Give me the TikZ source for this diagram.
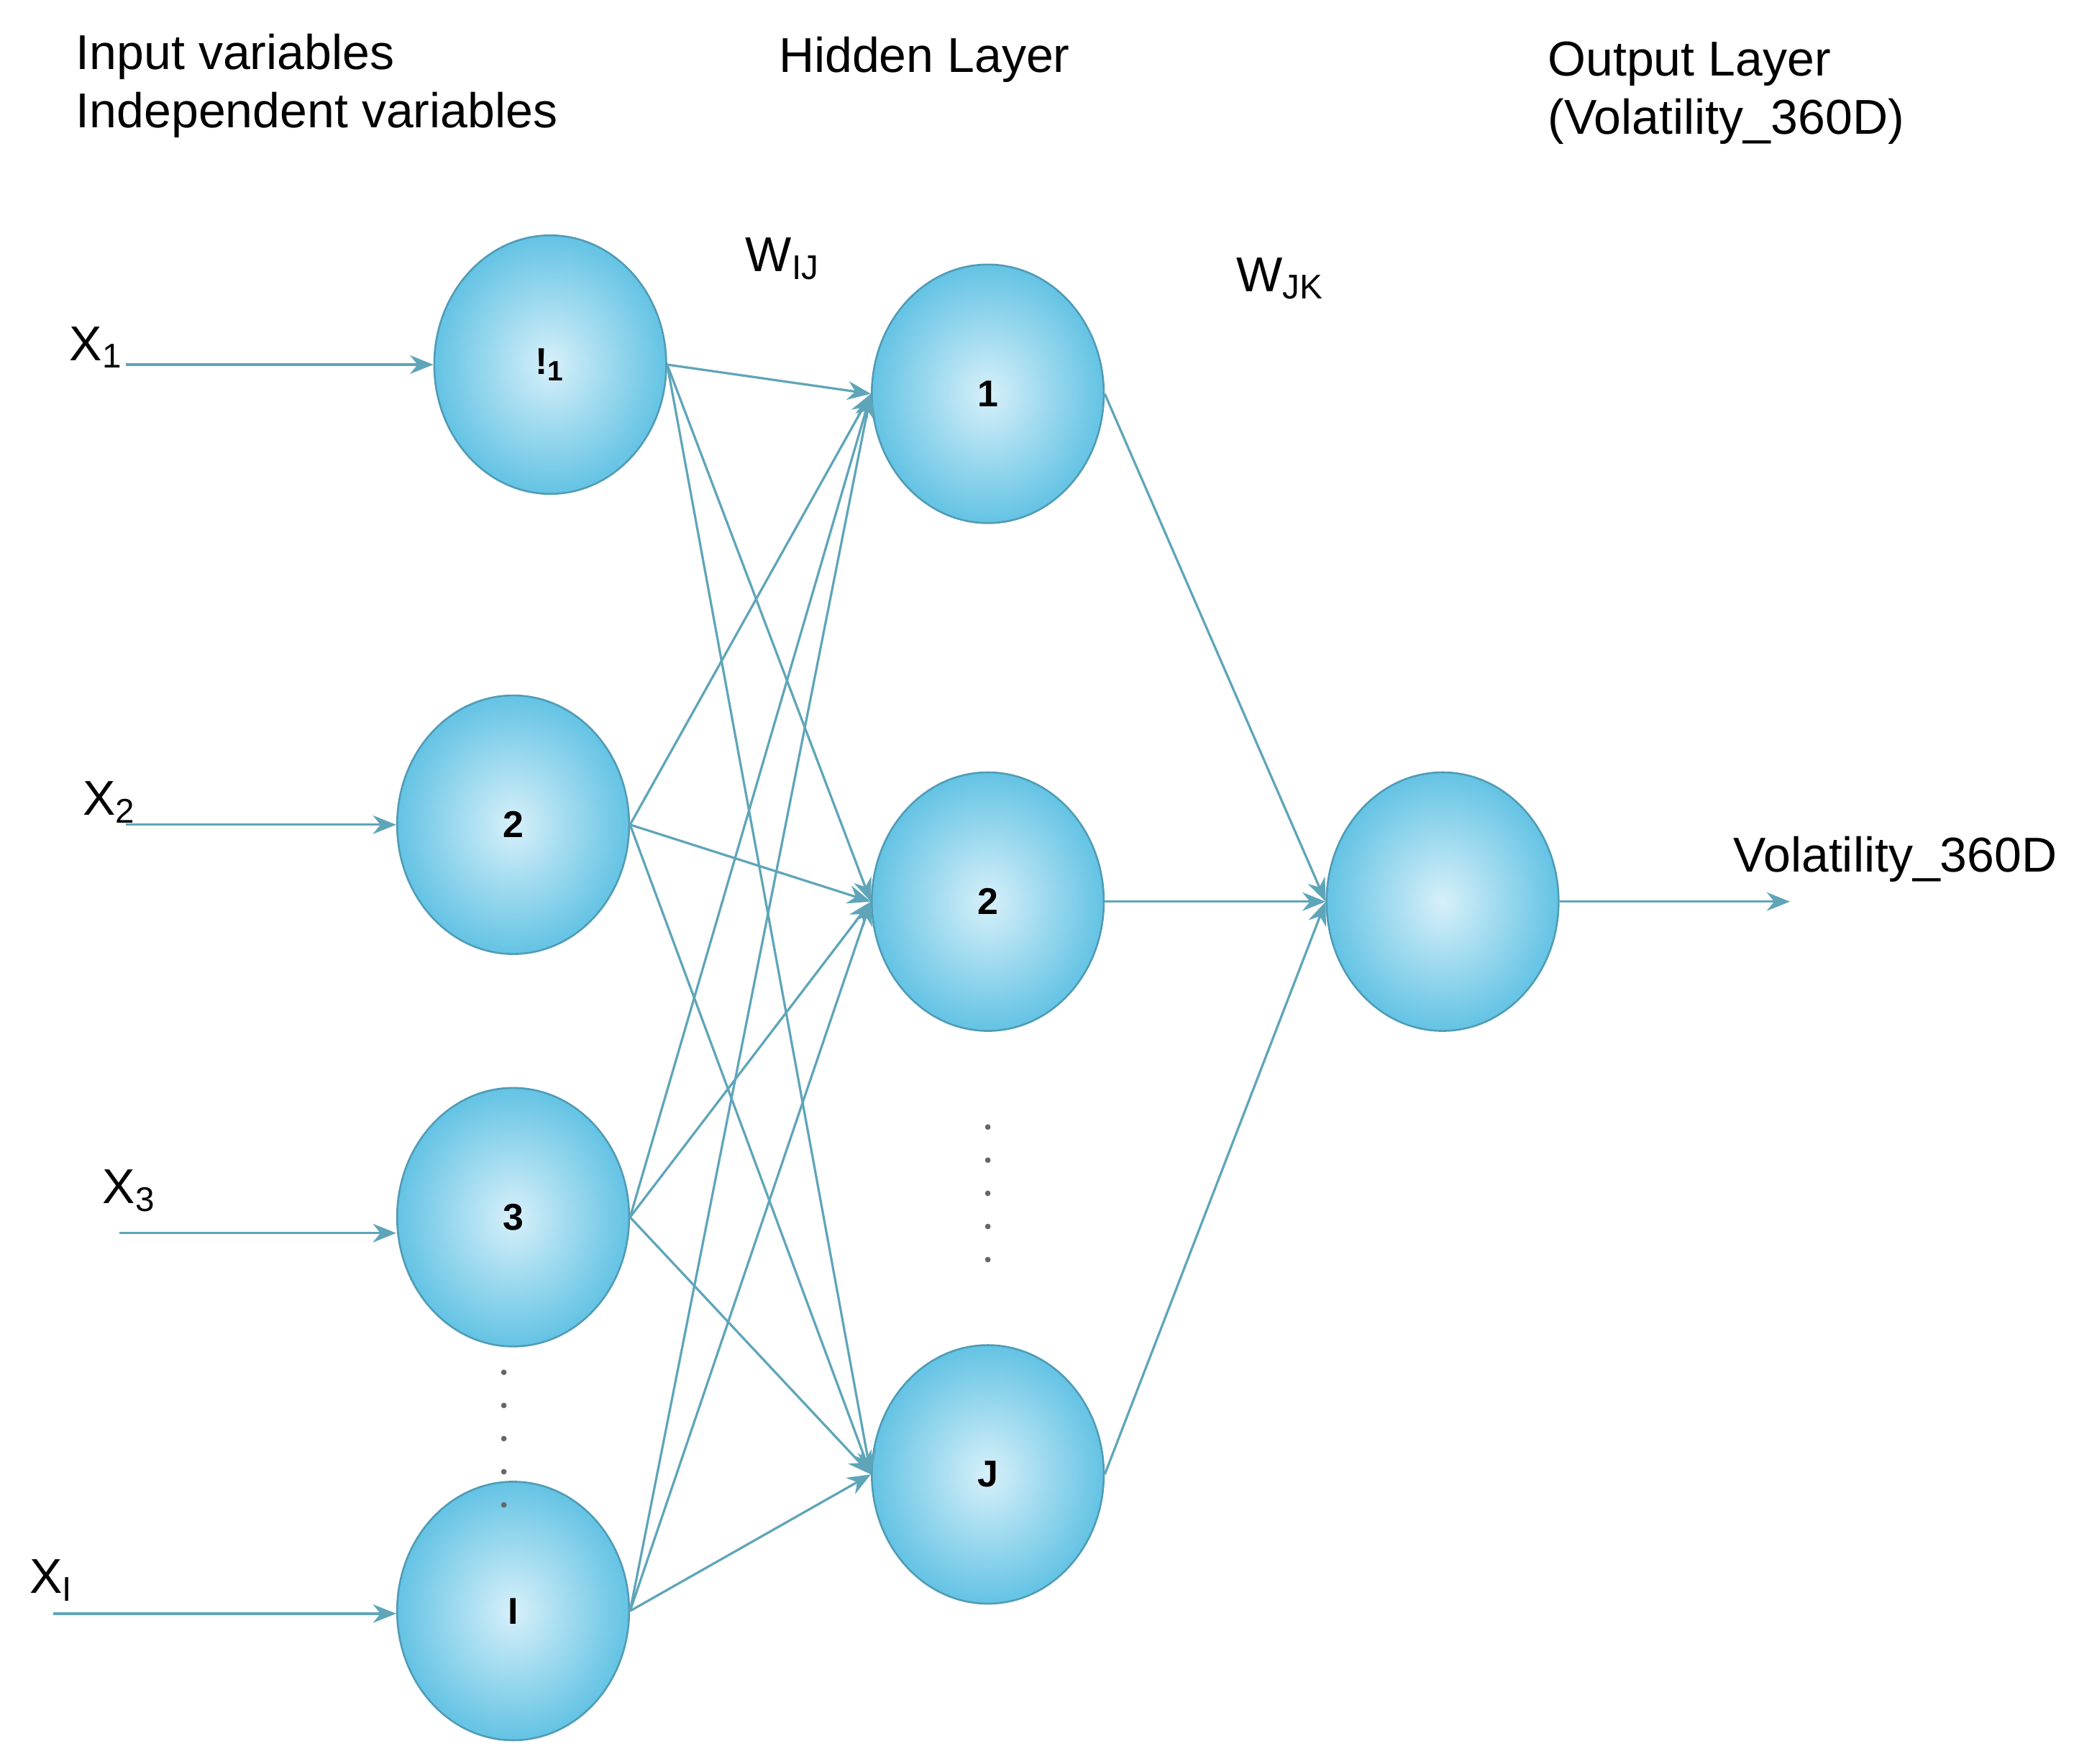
\documentclass[tikz,border=0pt]{standalone}
\usepackage{fontspec}
\setmainfont{Liberation Sans}
\usetikzlibrary{shapes.geometric, arrows.meta}
\definecolor{wire}{RGB}{95,165,185}
\definecolor{ball}{RGB}{100,195,228}
\definecolor{ballhi}{RGB}{215,240,250}
\tikzstyle{neu}=[shape=ellipse, minimum width=1.75cm, minimum height=1.95cm, draw=ball!80!black, inner color=ballhi, outer color=ball, font=\footnotesize\bfseries]
\tikzstyle{syn}=[draw=wire, line width=0.5pt, -{Stealth[length=5pt,width=4pt]}]
\tikzstyle{lab}=[font=\fontsize{10.5}{12.5}\selectfont, anchor=west, align=left]
\tikzstyle{dot}=[shape=circle, fill=black!60, inner sep=0pt, minimum size=1.2pt]

\begin{document}
\begin{tikzpicture}
	\useasboundingbox (0,0) rectangle (15.68,-13.30);
	\node[style=neu] (i1) at (4.15,-2.75) {!\textsubscript{1}};
	\node[style=neu] (i2) at (3.87,-6.22) {2};
	\node[style=neu] (i3) at (3.87,-9.18) {3};
	\node[style=neu] (i4) at (3.87,-12.15) {I};
	\node[style=neu] (h1) at (7.45,-2.97) {1};
	\node[style=neu] (h2) at (7.45,-6.80) {2};
	\node[style=neu] (h3) at (7.45,-11.12) {J};
	\node[style=neu] (o) at (10.88,-6.80) {};

	\node[style=lab] (x1) at (0.40,-2.62) {X\textsubscript{1}};
	\node[style=lab] (x2) at (0.50,-6.05) {X\textsubscript{2}};
	\node[style=lab] (x3) at (0.65,-8.98) {X\textsubscript{3}};
	\node[style=lab] (x4) at (0.10,-11.92) {X\textsubscript{I}};
	\coordinate (s1) at (0.95,-2.75);
	\coordinate (s2) at (0.95,-6.22);
	\coordinate (s3) at (0.90,-9.30);
	\coordinate (s4) at (0.40,-12.17);
	\coordinate (t) at (13.50,-6.80);

	\node[style=lab] (hin) at (0.45,-0.65) {Input variables\\Independent variables};
	\node[style=lab] (hhid) at (5.75,-0.45) {Hidden Layer};
	\node[style=lab] (hout) at (11.55,-0.70) {Output Layer\\(Volatility\_360D)};
	\node[style=lab] (wij) at (5.50,-1.95) {W\textsubscript{IJ}};
	\node[style=lab] (wjk) at (9.20,-2.10) {W\textsubscript{JK}};
	\node[style=lab] (vol) at (12.95,-6.48) {Volatility\_360D};
	\foreach \y [count=\n] in {10.35,10.60,10.85,11.10,11.35}
		\node[style=dot] (da\n) at (3.80,-\y) {};
	\foreach \y [count=\n] in {8.50,8.75,9.00,9.25,9.50}
		\node[style=dot] (db\n) at (7.45,-\y) {};

	\draw[style=syn] (s1) -- (i1);
	\draw[style=syn] (s2) -- (i2);
	\draw[style=syn] (s3) -- (s3 -| i3.west);
	\draw[style=syn] (s4) -- (s4 -| i4.west);
	\foreach \a in {i1,i2,i3,i4}
		\foreach \b in {h1,h2,h3}
			\draw[style=syn] (\a.east) -- (\b.west);
	\draw[style=syn] (h1.east) -- (o.west);
	\draw[style=syn] (h2.east) -- (o.west);
	\draw[style=syn] (h3.east) -- (o.west);
	\draw[style=syn] (o) -- (t);
\end{tikzpicture}
\end{document}
